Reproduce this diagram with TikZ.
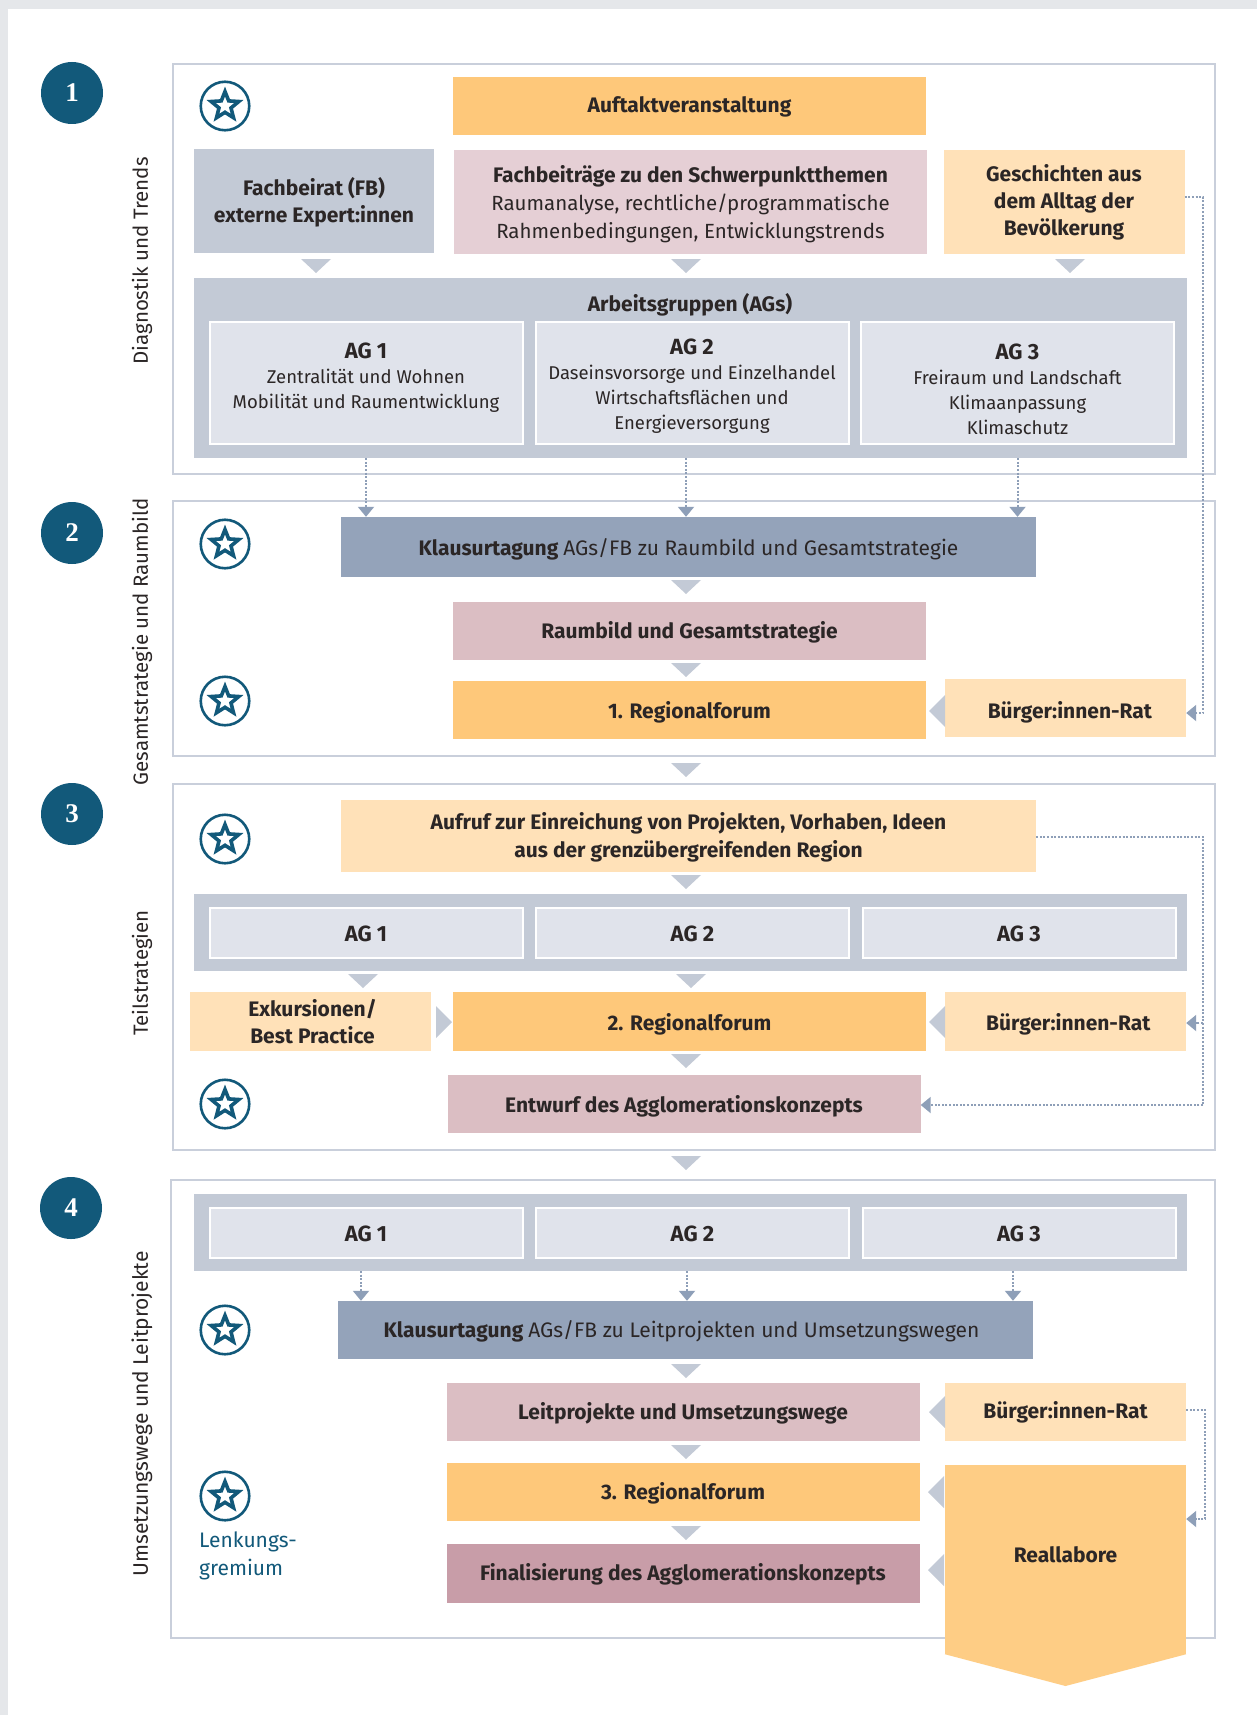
\documentclass[tikz,border=0pt]{standalone}
\usepackage{fontspec}
\setmainfont{Fira Sans}
\newfontfamily\numfont{Liberation Serif}
\usepackage{xcolor}
\usetikzlibrary{arrows.meta,positioning,calc,shapes.geometric}
\definecolor{pagegray}{HTML}{E5E7EA}
\definecolor{framegray}{HTML}{C9CFDB}
\definecolor{bandgray}{HTML}{C3CAD6}
\definecolor{aggray}{HTML}{E0E3EB}
\definecolor{slate}{HTML}{94A3BA}
\definecolor{dotblue}{HTML}{8E9FB8}
\definecolor{orange1}{HTML}{FEC87A}
\definecolor{orange2}{HTML}{FFE1B8}
\definecolor{orange3}{HTML}{FECD85}
\definecolor{rose1}{HTML}{E5CFD5}
\definecolor{rose2}{HTML}{DBBEC3}
\definecolor{rose3}{HTML}{C89DA8}
\definecolor{teal1}{HTML}{12597A}
\definecolor{inktext}{HTML}{2B2626}
\newcommand{\aglabel}[1]{{\fontsize{22}{25}\selectfont\bfseries #1}}
\newcommand{\thintext}[1]{{\fontsize{20.5}{28}\selectfont\mdseries #1}}
\newcommand{\dropline}[1]{\rule{0pt}{\dimexpr16pt+#1pt*2\relax}}

\begin{document}
\begin{tikzpicture}[
  x=1pt,y=-1pt,
  frame/.style={draw=framegray,line width=2.2pt,fill=white,inner sep=0pt},
  box/.style={inner sep=0pt,align=center,text=inktext,font=\fontsize{21}{28}\selectfont\bfseries},
  drop/.style={execute at begin node={\dropline{#1}}},
  lift/.style={execute at end node={\rule[-#1pt]{0pt}{0pt}}},
  forum/.style={box,minimum width=473pt,minimum height=58pt},
  small/.style={box,minimum width=241pt,minimum height=58pt},
  broad/.style={box,minimum width=695pt,minimum height=58pt},
  band/.style={inner sep=0pt,fill=bandgray,minimum width=993pt},
  ag/.style={box,draw=white,line width=2pt,fill=aggray,minimum width=313pt,font=\fontsize{18.5}{25}\selectfont},
  agslim/.style={ag,drop=1.1,minimum height=50pt,font=\fontsize{22}{25}\selectfont\bfseries},
  phase/.style={circle,fill=teal1,minimum size=62pt,inner sep=0pt,text=white,font=\fontsize{27}{27}\selectfont\numfont\bfseries},
  side/.style={rotate=90,inner sep=0pt,text=inktext,font=\fontsize{20.5}{25}\selectfont},
  dotline/.style={dotblue,line width=2pt,dash pattern=on 2pt off 1.6pt},
  dotarr/.style={dotline,-{Triangle[length=10pt,width=16pt,fill=dotblue]}},
  tridown/.pic={\fill[bandgray] (-15,-7) -- (15,-7) -- (0,7) -- cycle;},
  trileft/.pic={\fill[bandgray] (8,-16) -- (8,16) -- (-8,0) -- cycle;},
  triright/.pic={\fill[bandgray] (-8,-16) -- (-8,16) -- (8,0) -- cycle;},
  starmark/.pic={
    \node[circle,draw=teal1,line width=2.6pt,minimum size=48.5pt,inner sep=0pt] (-ring) at (0,0) {};
    \node[star,star points=5,star point ratio=2.3,draw=teal1,line width=3.6pt,minimum size=29pt,inner sep=0pt] (-star) at (0,0) {};
  }
]
\useasboundingbox (0,0) rectangle (1257,1715);
\fill[pagegray] (0,0) rectangle (1257,1715);
\fill[white] (8,9) rectangle (1257,1715);

% frames
\node[frame,minimum width=1042pt,minimum height=410pt] (frame1) at (694,269) {};
\node[frame,minimum width=1042pt,minimum height=255pt] (frame2) at (694,628.5) {};
\node[frame,minimum width=1042pt,minimum height=366pt] (frame3) at (694,967) {};
\node[frame,minimum width=1044pt,minimum height=458pt] (frame4) at (693,1409) {};

\node[phase] (num1) at (72,93) {1};
\node[phase] (num2) at (72,533) {2};
\node[phase] (num3) at (72,814) {3};
\node[phase] (num4) at (71,1208) {4};

\node[side] (side1) at (142,261) {Diagnostik und Trends};
\node[side] (side2) at (142,642) {Gesamtstrategie und Raumbild};
\node[side] (side3) at (142,973) {Teilstrategien};
\node[side,font=\fontsize{21}{25}\selectfont] (side4) at (142,1414) {Umsetzungswege und Leitprojekte};

\pic (star1) at (225,106) {starmark};
\pic (star2) at (225,544) {starmark};
\pic (star3) at (225,701) {starmark};
\pic (star4) at (225,839) {starmark};
\pic (star5) at (225,1104) {starmark};
\pic (star6) at (225,1330) {starmark};
\pic (star7) at (225,1496) {starmark};
\node[inner sep=0pt,anchor=west,align=left,text=teal1,font=\fontsize{21}{28}\selectfont] (lenkung) at (199,1555.5) {Lenkungs-\\gremium};

% phase 1
\node[forum,drop=1,fill=orange1] (auftakt) at (689.5,106) {Auftaktveranstaltung};
\node[box,fill=bandgray,minimum width=240pt,minimum height=104pt,font=\fontsize{21}{27}\selectfont\bfseries] (fachbeirat) at (314,201) {\dropline{2.2}Fachbeirat (FB)\\externe Expert:innen};
\node[box,fill=rose1,minimum width=473pt,minimum height=104pt] (fachbeitrag) at (690.5,202) {\dropline{2.7}Fachbeiträge zu den Schwerpunktthemen\\\thintext{Raumanalyse, rechtliche/programmatische}\\\thintext{Rahmenbedingungen, Entwicklungstrends}};
\node[box,fill=orange2,minimum width=241pt,minimum height=104pt,font=\fontsize{21}{27}\selectfont\bfseries] (geschichten) at (1064,202) {Geschichten aus\\dem Alltag der\\Bevölkerung};
\node[band,minimum height=180pt] (band1) at (690.5,368) {};
\node[box,drop=2.2] (agtitle) at (690,304) {Arbeitsgruppen (AGs)};
\node[ag,lift=14,minimum height=122pt] (aga1) at (366,383) {\aglabel{AG 1}\\Zentralität und Wohnen\\Mobilität und Raumentwicklung};
\node[ag,minimum height=122pt] (aga2) at (692,383) {\dropline{2.7}\aglabel{AG 2}\\Daseinsvorsorge und Einzelhandel\\Wirtschaftsflächen und\\Energieversorgung};
\node[ag,minimum height=122pt] (aga3) at (1017.5,383) {\dropline{6}\aglabel{AG 3}\\Freiraum und Landschaft\\Klimaanpassung\\Klimaschutz};
\pic (t1) at (316,266) {tridown};
\pic (t2) at (686,266) {tridown};
\pic (t3) at (1070,266) {tridown};

% phase 2
\node[broad,drop=3.3,minimum height=60pt,fill=slate] (klausur1) at (688.5,547) {Klausurtagung {\mdseries AGs/FB zu Raumbild und Gesamtstrategie}};
\node[forum,drop=1.6,fill=rose2] (raumbild) at (689.5,631) {Raumbild und Gesamtstrategie};
\node[forum,drop=3.3,fill=orange1] (forum1) at (689.5,709.5) {1. Regionalforum};
\node[small,drop=4.4,fill=orange2] (rat1) at (1065.5,708) {\hspace*{8.8pt}Bürger:innen-Rat};
\pic (t4) at (686,587) {tridown};
\pic (t5) at (686,670) {tridown};
\pic (t6) at (937,711) {trileft};
\pic (t7) at (686,770) {tridown};
\coordinate (ga0) at (686,458);
\draw[dotarr] (band1.south -| aga1) -- (klausur1.north -| aga1);
\draw[dotarr] (ga0) -- (klausur1.north -| ga0);
\draw[dotarr] (band1.south -| aga3) -- (klausur1.north -| aga3);
\coordinate (rail1a) at (1203,197);
\coordinate (rail1b) at (1203,713);
\draw[dotarr] (geschichten.east |- rail1a) -- (rail1a) -- (rail1b) -- (rat1.east |- rail1b);

% phase 3
\node[broad,minimum height=72pt,fill=orange2] (aufruf) at (688.5,836) {\dropline{2.2}Aufruf zur Einreichung von Projekten, Vorhaben, Ideen\\aus der grenzübergreifenden Region};
\node[band,minimum height=77pt] (band2) at (690.5,932.5) {};
\node[agslim] (agb1) at (366,933) {AG 1};
\node[agslim] (agb2) at (692.5,933) {AG 2};
\node[agslim] (agb3) at (1019,933) {AG 3};
\node[small,fill=orange2,minimum height=59pt,font=\fontsize{21}{26.5}\selectfont\bfseries] (exkursion) at (310.5,1021.5) {\hspace*{4pt}Exkursionen/\\\hspace*{4pt}Best Practice};
\node[forum,drop=3.3,minimum height=59pt,fill=orange1] (forum2) at (689.5,1021.5) {2. Regionalforum};
\node[small,drop=3.3,minimum height=59pt,fill=orange2] (rat2) at (1065.5,1021.5) {\hspace*{5.5pt}Bürger:innen-Rat};
\node[forum,drop=3.3,fill=rose2] (entwurf) at (684,1104) {Entwurf des Agglomerationskonzepts};
\pic (t8) at (686,882) {tridown};
\pic (t9) at (363,981) {tridown};
\pic (t10) at (691,981) {tridown};
\pic (t11) at (444,1022) {triright};
\pic (t12) at (937,1022) {trileft};
\pic (t13) at (686,1061) {tridown};
\pic (t14) at (686,1163) {tridown};
\coordinate (rail2a) at (1203,837);
\coordinate (rail2b) at (1203,1023);
\coordinate (rail2c) at (1203,1105);
\draw[dotline] (aufruf.east |- rail2a) -- (rail2a) -- (rail2c);
\draw[dotarr] (rail2b) -- (rat2.east |- rail2b);
\draw[dotarr] (rail2c) -- (entwurf.east |- rail2c);

% phase 4
\node[band,minimum height=77pt] (band3) at (690.5,1232.5) {};
\node[agslim] (agc1) at (366,1233) {AG 1};
\node[agslim] (agc2) at (692.5,1233) {AG 2};
\node[agslim] (agc3) at (1019,1233) {AG 3};
\node[broad,drop=1.6,fill=slate] (klausur2) at (685,1330) {Klausurtagung {\mdseries AGs/FB zu Leitprojekten und Umsetzungswegen}\hspace*{7pt}};
\node[forum,drop=1.6,fill=rose2] (leit) at (683,1412) {Leitprojekte und Umsetzungswege};
\node[small,drop=1,fill=orange2] (rat3) at (1065.5,1412) {Bürger:innen-Rat};
\node[forum,drop=1.6,fill=orange1] (forum3) at (683,1492) {3. Regionalforum};
\node[forum,drop=1.6,minimum height=59pt,fill=rose3] (final) at (683,1573.5) {Finalisierung des Agglomerationskonzepts};
\node[box,lift=10.5,fill=orange3,minimum width=241pt,minimum height=189pt] (reallabor) at (1065.5,1559.5) {Reallabore};
\coordinate (realtip) at (1065.5,1686);
\fill[orange3] (reallabor.south west) -- (reallabor.south east) -- (realtip) -- cycle;
\pic (t15) at (686,1371) {tridown};
\pic (t16) at (686,1452) {tridown};
\pic (t17) at (686,1533) {tridown};
\pic (t18) at (937,1412) {trileft};
\pic (t19) at (936,1492) {trileft};
\pic (t20) at (936,1570) {trileft};
\coordinate (ga1) at (361,1271);
\coordinate (ga2) at (687,1271);
\coordinate (ga3) at (1013,1271);
\draw[dotarr] (ga1) -- (klausur2.north -| ga1);
\draw[dotarr] (ga2) -- (klausur2.north -| ga2);
\draw[dotarr] (ga3) -- (klausur2.north -| ga3);
\coordinate (rail3a) at (1205,1410);
\coordinate (rail3b) at (1205,1519);
\draw[dotarr] (rat3.east |- rail3a) -- (rail3a) -- (rail3b) -- (reallabor.east |- rail3b);
\end{tikzpicture}
\end{document}
